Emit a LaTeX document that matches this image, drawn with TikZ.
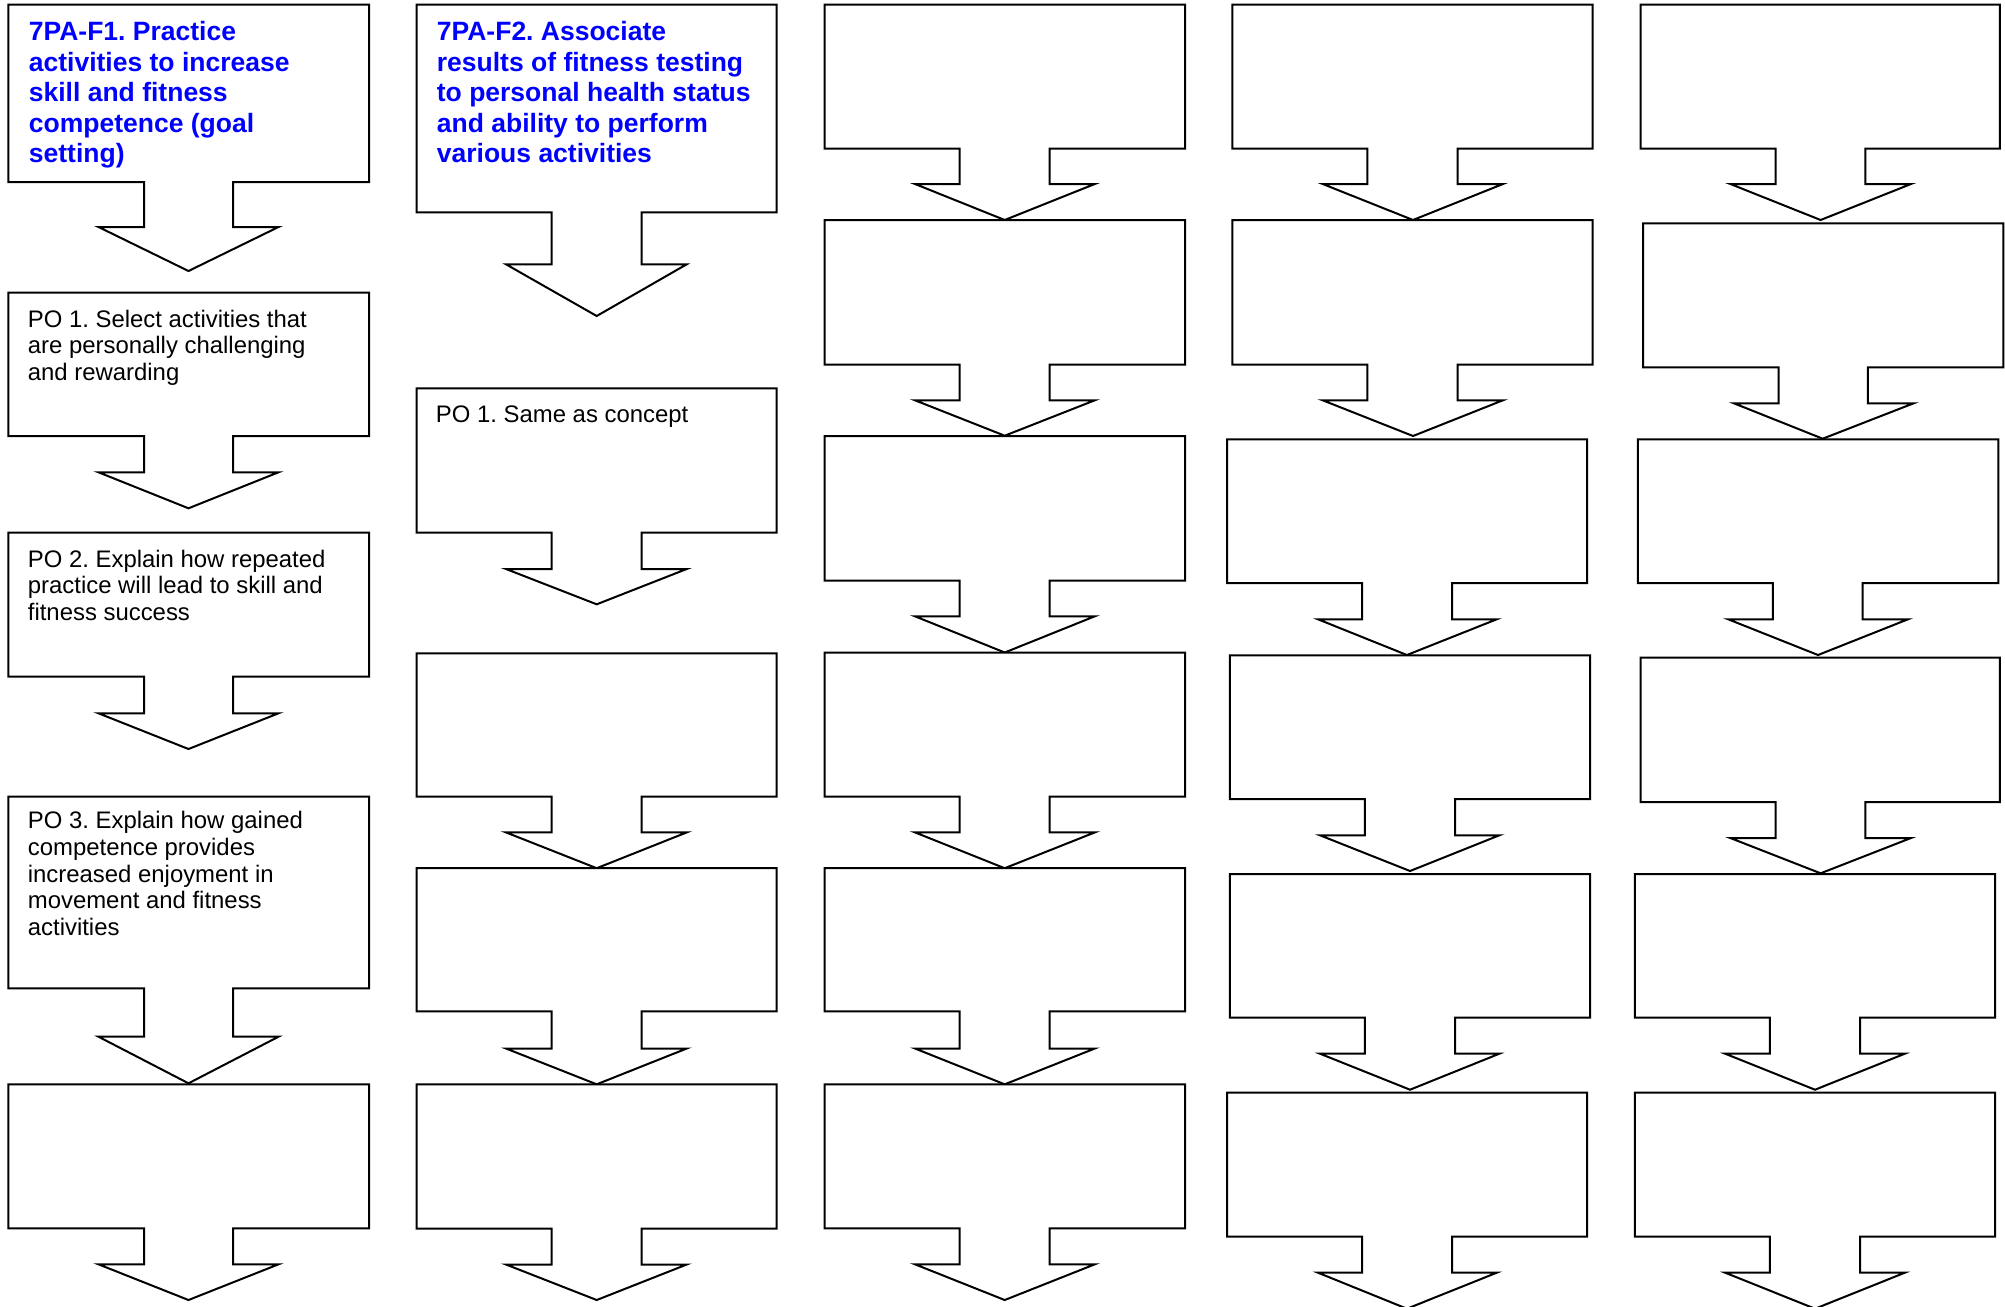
\documentclass[tikz,border=0pt]{standalone}
\usepackage{fontspec}
\setmainfont{Liberation Sans}
\frenchspacing
\newcommand{\setcol}[7]{\def\bxL{#1}\def\bxR{#2}\def\stL{#3}\def\stR{#4}\def\wgL{#5}\def\wgR{#6}\def\tipX{#7}}
\newcommand{\arrowbox}[4]{\draw[boxline] (\bxL,#1) -- (\bxR,#1) -- (\bxR,#2) -- (\stR,#2) -- (\stR,#3) -- (\wgR,#3) -- (\tipX,#4) -- (\wgL,#3) -- (\stL,#3) -- (\stL,#2) -- (\bxL,#2) -- cycle;}
\tikzset{
  boxline/.style={draw=black, line width=1pt, line join=miter, fill=white},
  headtext/.style={anchor=north west, inner sep=0pt, align=left, text=blue,
    font=\fontsize{13.25}{15.3}\selectfont\bfseries\frenchspacing},
  potext/.style={anchor=north west, inner sep=0pt, align=left, text=black,
    font=\fontsize{11.95}{13.35}\selectfont\frenchspacing}
}
\begin{document}
\begin{tikzpicture}[x=0.5pt,y=-0.5pt]
\useasboundingbox (0,0) rectangle (2005,1306);
% column 1
\setcol{8.3}{369}{144}{233}{98.5}{278.5}{188.5}
\arrowbox{4.7}{182}{227}{271}
\arrowbox{292.7}{436}{472.3}{508.3}
\arrowbox{532.7}{676.7}{713.3}{749}
\arrowbox{796.7}{988.3}{1036.7}{1083.3}
\arrowbox{1084.3}{1228.3}{1264.3}{1300}
% column 2
\setcol{416.7}{776.7}{551.7}{641.7}{506}{686.7}{596.7}
\arrowbox{4.7}{212.3}{264.3}{316}
\arrowbox{388.3}{532.7}{569}{604.3}
\arrowbox{653.4}{796.6}{832.4}{868.2}
\arrowbox{868.2}{1011.4}{1048.5}{1084.3}
\arrowbox{1084.3}{1228.5}{1264.5}{1300}
% column 3
\setcol{824.5}{1185}{959.7}{1049.5}{915}{1094.8}{1004.7}
\arrowbox{4.7}{148.7}{184}{220}
\arrowbox{220}{364.7}{400.3}{435.7}
\arrowbox{436}{580.5}{616.3}{652.5}
\arrowbox{652.5}{796.6}{832.4}{868.2}
\arrowbox{868.2}{1011.4}{1048.5}{1084.3}
\arrowbox{1084.3}{1228.3}{1264.3}{1300}
% column 4
\setcol{1232.3}{1592.7}{1367.4}{1457.7}{1322.7}{1502.9}{1413}
\arrowbox{4.7}{148.7}{184}{220}
\arrowbox{220}{364.7}{400.3}{436}
\setcol{1227.2}{1587}{1362.2}{1452}{1318}{1496.7}{1406.9}
\arrowbox{439.3}{583}{619.3}{655}
\setcol{1229.8}{1590}{1364.8}{1455.1}{1320}{1499.3}{1410}
\arrowbox{655.3}{799}{835.3}{871}
\arrowbox{874}{1017.7}{1053.7}{1089.7}
\setcol{1227.2}{1587}{1362.2}{1452}{1318}{1496.7}{1406.9}
\arrowbox{1092.7}{1236.7}{1272.7}{1308.7}
% column 5
\setcol{1640.5}{1999.8}{1775.5}{1865.3}{1730.3}{1911}{1820.6}
\arrowbox{4.7}{148.7}{184}{220}
\setcol{1643}{2003.4}{1778.5}{1867.9}{1733.9}{1913.6}{1822.7}
\arrowbox{223.3}{367.3}{403.3}{438.7}
\setcol{1637.9}{1998.3}{1772.9}{1862.7}{1728.2}{1907.9}{1818}
\arrowbox{439.3}{583}{619.3}{655}
\setcol{1640.5}{1999.8}{1775.5}{1865.3}{1730.3}{1911}{1820.6}
\arrowbox{657.7}{802}{838}{873.3}
\setcol{1634.8}{1995.2}{1769.8}{1860.2}{1725.2}{1904.8}{1815}
\arrowbox{874}{1017.7}{1053.7}{1089.7}
\arrowbox{1092.7}{1236.7}{1272.7}{1308.7}
% texts (baseline = top + 40 units)
\node[headtext] (cA) at (28.5,0) {\rule{0pt}{20pt}7PA-F1. Practice\\activities to increase\\skill and fitness\\competence (goal\\setting)};
\node[potext] (a1) at (27.5,286.7) {\rule{0pt}{20pt}PO 1. Select activities that\\are personally challenging\\and rewarding};
\node[potext] (a2) at (27.5,526.7) {\rule{0pt}{20pt}PO 2. Explain how repeated\\practice will lead to skill and\\fitness success};
\node[potext] (a3) at (27.5,788.3) {\rule{0pt}{20pt}PO 3. Explain how gained\\competence provides\\increased enjoyment in\\movement and fitness\\activities};
\node[headtext] (cB) at (436.5,0) {\rule{0pt}{20pt}7PA-F2. Associate\\results of fitness testing\\to personal health status\\and ability to perform\\various activities};
\node[potext] (b1) at (435.5,381.7) {\rule{0pt}{20pt}PO 1. Same as concept};
\end{tikzpicture}
\end{document}
